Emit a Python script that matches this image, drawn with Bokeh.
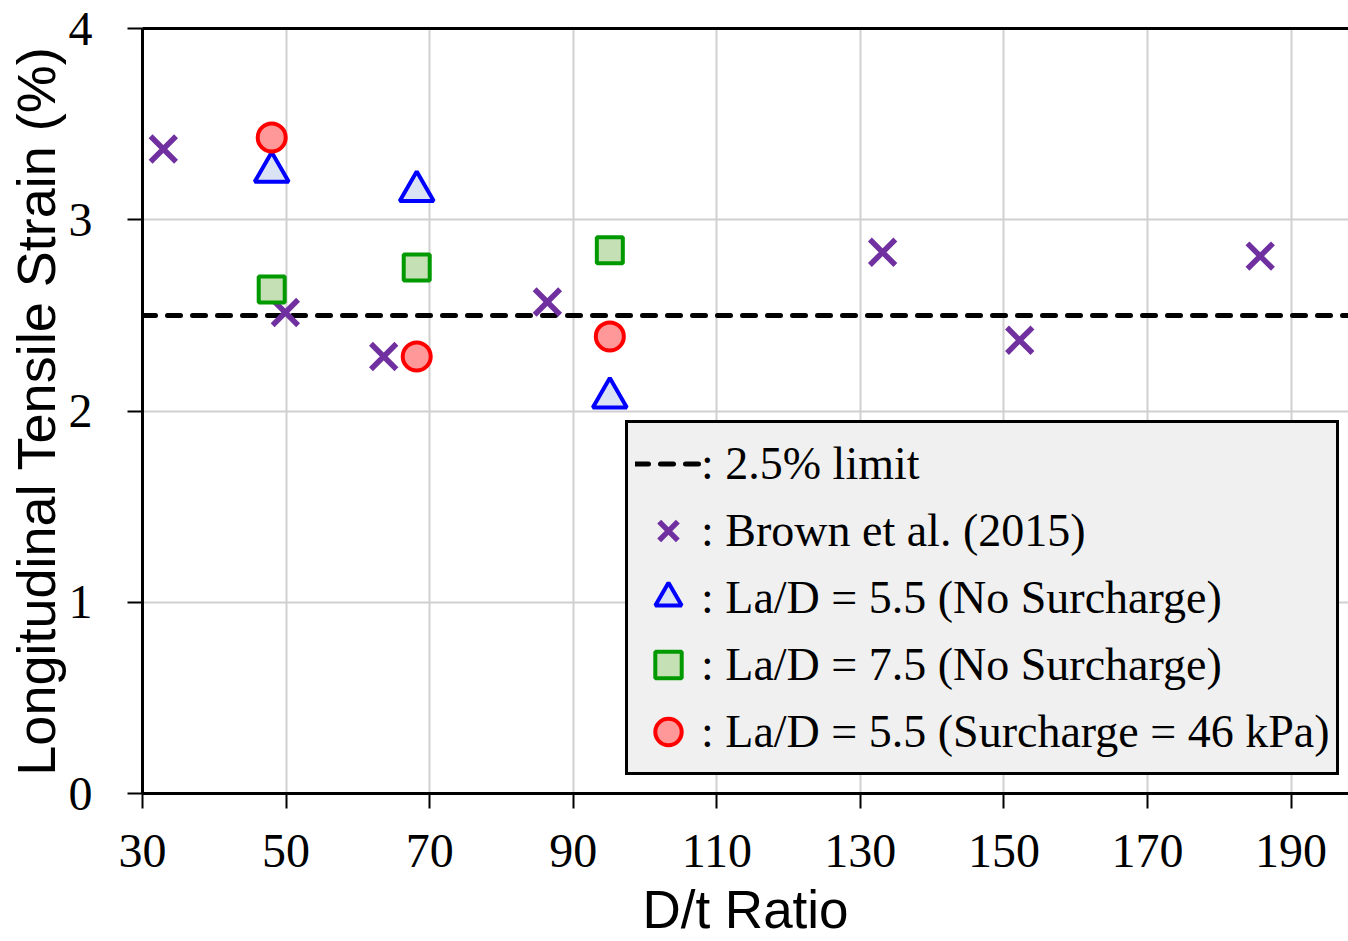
from bokeh.plotting import figure
from bokeh.models import LinearAxis, FixedTicker, Range1d, Legend, LegendItem
from bokeh.embed import file_html
from bokeh.resources import INLINE

# ---- data ----
X_START, X_END = 30, 198
Y_START, Y_END = 0, 4
x_ticks = [30, 50, 70, 90, 110, 130, 150, 170, 190]
y_ticks = [0, 1, 2, 3, 4]
limit = 2.5

brown_x = [32.9, 49.9, 63.6, 86.4, 133.1, 152.2, 185.7]
brown_y = [3.37, 2.515, 2.285, 2.57, 2.83, 2.37, 2.81]

tri_x = [48.0, 68.2, 95.1]
tri_y = [3.25, 3.15, 2.07]

sq_x = [48.0, 68.2, 95.1]
sq_y = [2.635, 2.75, 2.84]

circ_x = [48.0, 68.2, 95.1]
circ_y = [3.43, 2.285, 2.39]

labels = [": 2.5% limit", ": Brown et al. (2015)", ": La/D = 5.5 (No Surcharge)",
          ": La/D = 7.5 (No Surcharge)", ": La/D = 5.5 (Surcharge = 46 kPa)"]

SERIF = "Liberation Serif"
SANS = "Liberation Sans"

p = figure(width=1348, height=941, output_backend="svg", toolbar_location=None,
           x_range=Range1d(X_START, X_END), y_range=Range1d(Y_START, Y_END),
           min_border_left=142, min_border_right=0, min_border_top=28, min_border_bottom=140,
           x_axis_label="D/t Ratio", y_axis_label="Longitudinal Tensile Strain (%)")
p.outline_line_color = None
p.background_fill_color = "white"
p.border_fill_color = "white"

xaxis = p.below[0]
yaxis = p.left[0]

# top border line via axis without ticks
top = LinearAxis(ticker=FixedTicker(ticks=[]), major_label_text_font_size="0px",
                 major_tick_out=0, major_tick_in=0, minor_tick_out=0, minor_tick_in=0,
                 axis_line_width=3, axis_line_color="black", major_label_standoff=0)
p.add_layout(top, "above")

for ax, ticks in ((xaxis, x_ticks), (yaxis, y_ticks)):
    ax.ticker = FixedTicker(ticks=ticks)
    ax.axis_line_width = 3
    ax.axis_line_color = "black"
    ax.major_tick_line_width = 2
    ax.major_tick_line_color = "black"
    ax.major_tick_out = 15
    ax.major_tick_in = 0
    ax.minor_tick_out = 0
    ax.minor_tick_in = 0
    ax.major_label_text_font = SERIF
    ax.major_label_text_font_size = "48px"
    ax.major_label_text_color = "black"
    ax.axis_label_text_font = SANS
    ax.axis_label_text_font_style = "normal"
    ax.axis_label_text_color = "black"

xaxis.major_label_standoff = 26
yaxis.major_label_standoff = 35
xaxis.axis_label_text_font_size = "53px"
yaxis.axis_label_text_font_size = "54px"
xaxis.axis_label_standoff = 10
yaxis.axis_label_standoff = 0

p.xgrid.ticker = FixedTicker(ticks=x_ticks)
p.ygrid.ticker = FixedTicker(ticks=y_ticks)
p.grid.grid_line_color = "#d0d0d0"
p.grid.grid_line_width = 2

r_lim = p.line(x=[X_START, X_END], y=[limit, limit], line_color="black",
               line_width=5, line_dash="13 12", line_cap="round")
r_brown = p.scatter(brown_x, brown_y, marker="x", size=36, line_color="#7030A0", line_width=5.5)
r_sq = p.scatter(sq_x, sq_y, marker="square", size=26, line_color="#009A00",
                 fill_color="#C5E0B4", line_width=4)
r_tri = p.scatter(tri_x, tri_y, marker="triangle", size=34, line_color="#0000FF",
                  fill_color="#DAE3F3", line_width=4)
r_circ = p.scatter(circ_x, circ_y, marker="circle", size=28, line_color="#FF0000",
                   fill_color="#FF9999", line_width=4)

legend = Legend(items=[LegendItem(label=labels[0], renderers=[r_lim]),
                       LegendItem(label=labels[1], renderers=[r_brown]),
                       LegendItem(label=labels[2], renderers=[r_tri]),
                       LegendItem(label=labels[3], renderers=[r_sq]),
                       LegendItem(label=labels[4], renderers=[r_circ])],
                location=(483, 18))
legend.label_text_font = SERIF
legend.label_text_font_size = "46px"
legend.label_text_color = "black"
legend.glyph_width = 66
legend.glyph_height = 67
legend.label_height = 67
legend.spacing = 0
legend.padding = 7
legend.label_standoff = 0
legend.margin = 0
legend.border_line_color = "black"
legend.border_line_width = 3
legend.border_line_alpha = 1
legend.background_fill_color = "#F0F0F0"
legend.background_fill_alpha = 1
p.add_layout(legend, "center")

open("out.html", "w").write(file_html(p, INLINE))
